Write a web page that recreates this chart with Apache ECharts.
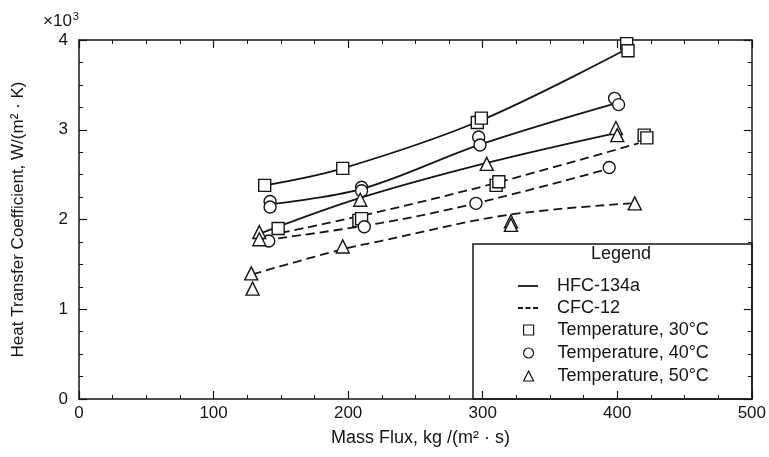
<!DOCTYPE html>
<html>
<head>
<meta charset="utf-8">
<script src="https://cdn.jsdelivr.net/npm/echarts@6/dist/echarts.min.js"></script>
<style>
  html, body { margin: 0; padding: 0; background: #fff; }
  #chart { width: 769px; height: 457px; }
</style>
</head>
<body>
<div id="chart"></div>
<script>
// fitted curves, [mass flux, h (x10^3)]
let hfc30Fit = [[138, 2.38], [196, 2.57], [298, 3.10], [407, 3.90]]
let hfc40Fit = [[142, 2.17], [210, 2.34], [299, 2.84], [400, 3.30]]
let hfc50Fit = [[134, 1.84], [209, 2.24], [303, 2.63], [398, 2.96]]
let cfc30Fit = [[150, 1.85], [224, 2.09], [308, 2.40], [416, 2.85]]
let cfc40Fit = [[148, 1.79], [224, 1.96], [295, 2.18], [390, 2.55]]
let cfc50Fit = [[129, 1.39], [196, 1.67], [224, 1.76], [318, 2.05], [410, 2.18]]

// measured points
let pts30 = [
  [138, 2.38], [196, 2.57], [296, 3.08], [299, 3.13], [407, 3.96], [408, 3.88],
  [148, 1.90], [208, 1.99], [210, 2.01], [310, 2.38], [312, 2.42], [420, 2.94], [422, 2.91]
]
let pts40 = [
  [142, 2.20], [142, 2.14], [210, 2.36], [210, 2.32], [297, 2.92], [298, 2.83], [398, 3.35], [401, 3.28],
  [141, 1.76], [212, 1.92], [295, 2.18], [394, 2.58]
]
let pts50 = [
  [134, 1.86], [209, 2.22], [303, 2.62], [399, 3.02], [400, 2.94],
  [134, 1.78], [128, 1.40], [129, 1.23], [196, 1.70], [321, 1.98], [321, 1.94], [413, 2.18]
]

let xTicks = [0, 100, 200, 300, 400, 500]
let yTicks = [0, 1, 2, 3, 4]

let ink = '#151515'
let font = 'Liberation Sans'

function fitLine(name, data, dashed) {
  return {
    name: name,
    type: 'line',
    data: data,
    smooth: 0.35,
    symbol: 'none',
    color: ink,
    z: 2,
    lineStyle: { color: ink, width: 1.8, type: dashed ? [9, 5] : 'solid' }
  }
}

function points(name, data, symbol) {
  return {
    name: name,
    type: 'scatter',
    data: data,
    symbol: symbol,
    symbolSize: symbol === 'triangle' ? 13 : 12,
    z: 3,
    itemStyle: { color: '#fff', borderColor: ink, borderWidth: 1.4, opacity: 1 }
  }
}

function axisBase(min, max, interval, position, showLabel) {
  return {
    type: 'value',
    min: min,
    max: max,
    interval: interval,
    position: position,
    axisLine: { show: true, onZero: false, lineStyle: { color: ink, width: 1.5 } },
    axisTick: { show: true, inside: true, length: 8, lineStyle: { color: ink, width: 1.2 } },
    minorTick: { show: true, splitNumber: 4, length: 4, lineStyle: { color: ink, width: 1 } },
    splitLine: { show: false },
    axisLabel: { show: showLabel, color: ink, fontFamily: font, fontSize: 17 }
  }
}

let chart = echarts.init(document.getElementById('chart'))

let xBottom = axisBase(0, 500, 100, 'bottom', true)
xBottom.axisLabel.margin = 6
xBottom.axisLabel.formatter = function (v) { return xTicks.indexOf(v) >= 0 ? String(v) : '' }
xBottom.name = 'Mass Flux, kg /(m² · s)'
xBottom.nameLocation = 'middle'
xBottom.nameGap = 30
xBottom.nameTextStyle = { color: ink, fontFamily: font, fontSize: 18, padding: [0, 0, 0, 10] }

let yLeft = axisBase(0, 4, 1, 'left', true)
yLeft.axisLabel.margin = 11
yLeft.axisLabel.formatter = function (v) { return yTicks.indexOf(v) >= 0 ? String(v) : '' }
yLeft.name = 'Heat Transfer Coefficient, W/(m² · K)'
yLeft.nameLocation = 'middle'
yLeft.nameGap = 52
yLeft.nameTextStyle = { color: ink, fontFamily: font, fontSize: 17 }

// legend icons drawn as short strokes so the line entries stay black
let solidIcon = 'path://M0,4L20,4L20,5.8L0,5.8Z'
let dashIcon = 'path://M0,4h5v1.8h-5zM7.5,4h5v1.8h-5zM15,4h5v1.8h-5z'

let option = {
  backgroundColor: '#fff',
  animation: false,
  title: {
    text: '{a|×10}{b|3}',
    left: 38,
    top: 6,
    textStyle: {
      fontWeight: 'normal',
      rich: {
        a: { color: ink, fontFamily: font, fontSize: 17, fontWeight: 'normal' },
        b: { color: ink, fontFamily: font, fontSize: 11, fontWeight: 'normal', verticalAlign: 'top', padding: [0, 0, 10, 1] }
      }
    }
  },
  grid: { left: 79, right: 17, top: 40, bottom: 58 },
  xAxis: [xBottom, axisBase(0, 500, 100, 'top', false)],
  yAxis: [yLeft, axisBase(0, 4, 1, 'right', false)],
  legend: [
    {
      data: [
        { name: 'HFC-134a', icon: solidIcon },
        { name: 'CFC-12', icon: dashIcon }
      ],
      orient: 'vertical',
      left: 513,
      top: 272,
      itemWidth: 20,
      itemHeight: 10,
      itemGap: 4,
      itemStyle: { color: ink, borderWidth: 0 },
      lineStyle: { width: 0 },
      textStyle: { color: ink, fontFamily: font, fontSize: 18, lineHeight: 17, padding: [0, 0, 0, 14] }
    },
    {
      data: [
        { name: 'Temperature, 30°C', icon: 'rect' },
        { name: 'Temperature, 40°C', icon: 'circle' },
        { name: 'Temperature, 50°C', icon: 'triangle' }
      ],
      orient: 'vertical',
      left: 518,
      top: 316,
      itemWidth: 10,
      itemHeight: 10,
      itemGap: 5,
      itemStyle: { color: '#fff', borderColor: ink, borderWidth: 1.2 },
      textStyle: { color: ink, fontFamily: font, fontSize: 18, lineHeight: 17, padding: [0, 0, 0, 19] }
    }
  ],
  graphic: [
    {
      type: 'rect',
      z: 1,
      shape: { x: 473, y: 244, width: 279, height: 155 },
      style: { fill: 'none', stroke: ink, lineWidth: 1.5 }
    },
    {
      type: 'text',
      z: 1,
      x: 621,
      y: 254,
      style: {
        text: 'Legend',
        fill: ink,
        font: '18px "Liberation Sans"',
        textAlign: 'center',
        textVerticalAlign: 'middle'
      }
    }
  ],
  series: [
    fitLine('HFC-134a', hfc30Fit, false),
    fitLine('HFC-134a', hfc40Fit, false),
    fitLine('HFC-134a', hfc50Fit, false),
    fitLine('CFC-12', cfc30Fit, true),
    fitLine('CFC-12', cfc40Fit, true),
    fitLine('CFC-12', cfc50Fit, true),
    points('Temperature, 30°C', pts30, 'rect'),
    points('Temperature, 40°C', pts40, 'circle'),
    points('Temperature, 50°C', pts50, 'triangle')
  ]
}

chart.setOption(option)
</script>
</body>
</html>
